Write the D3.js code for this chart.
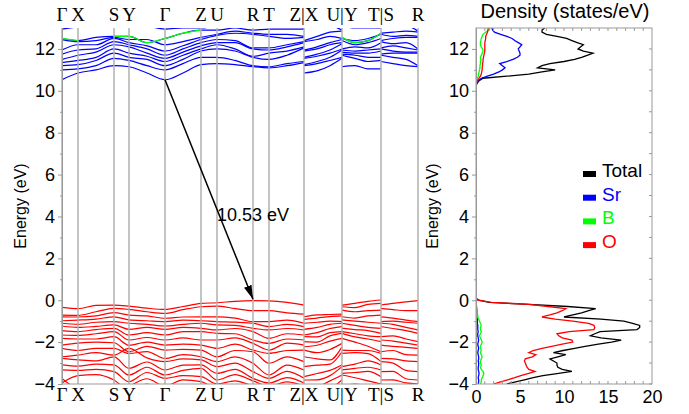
<!DOCTYPE html>
<html>
<head>
<meta charset="utf-8">
<script src="https://cdn.jsdelivr.net/npm/d3@7"></script>
<style>
  body { margin: 0; background: #fff; }
  text { font-family: Arial, "Liberation Sans", sans-serif; }
  .klabel { font-family: "Times New Roman", "Liberation Serif", serif; font-size: 19px; }
</style>
</head>
<body>
<svg id="chart"></svg>
<script>
// k-path: positions of the sampled k points along the path (arbitrary units)
var kPos = [0, 16, 34, 52, 67, 85, 103, 121, 139, 155, 173, 191, 207, 225, 242,
            242, 255, 268, 280,
            280, 293, 306, 319,
            319, 331, 344, 356];
// path pieces (index ranges into kPos), broken at Z|X, U|Y, T|S
var pieces = [[0, 15], [15, 19], [19, 23], [23, 27]];

var kTicks = [0, 16, 52, 67, 103, 139, 155, 191, 207, 242, 280, 319, 356];
var kLabels = ["Γ", "X", "S", "Y", "Γ", "Z", "U", "R", "T", "Z|X", "U|Y", "T|S", "R"];

// conduction band energies (eV), one row per k point
var cbEnergies = [
  [10.53, 11.0, 11.2, 11.35, 11.5, 11.75, 11.95, 12.45, 12.5, 12.95],
  [10.85, 11.05, 11.25, 11.45, 11.7, 11.95, 12.2, 12.35, 12.4, 13.05],
  [11.0, 11.2, 11.45, 11.6, 11.85, 12.0, 12.2, 12.4, 12.55, 13.1],
  [11.2, 11.55, 11.8, 12.0, 12.2, 12.35, 12.5, 12.55, 12.6, 13.2],
  [11.15, 11.45, 11.6, 11.8, 12.1, 12.2, 12.3, 12.45, 12.6, 13.2],
  [10.85, 11.2, 11.5, 11.65, 11.8, 12.0, 12.15, 12.45, 12.3, 13.1],
  [10.53, 11.0, 11.2, 11.4, 11.55, 11.7, 11.9, 12.2, 12.5, 12.95],
  [10.85, 11.3, 11.5, 11.7, 11.85, 12.0, 12.15, 12.35, 12.75, 13.0],
  [11.25, 11.6, 11.9, 12.0, 12.15, 12.3, 12.45, 12.55, 12.9, 13.0],
  [11.3, 11.6, 12.0, 12.2, 12.3, 12.45, 12.65, 12.7, 12.9, 13.1],
  [11.25, 11.45, 11.9, 12.0, 12.3, 12.4, 12.75, 12.85, 13.0, 13.2],
  [11.15, 11.2, 11.6, 11.65, 12.0, 12.05, 12.7, 12.75, 12.9, 13.3],
  [11.1, 11.15, 11.5, 11.8, 11.95, 12.05, 12.6, 12.7, 12.95, 13.3],
  [11.2, 11.3, 11.7, 11.9, 12.1, 12.2, 12.5, 12.7, 12.95, 13.2],
  [11.35, 11.4, 12.05, 12.1, 12.3, 12.35, 12.55, 12.6, 12.95, 13.0],
  [10.85, 11.2, 11.25, 11.55, 11.6, 11.9, 11.95, 12.35, 12.4, 13.1],
  [10.95, 11.3, 11.4, 11.65, 11.75, 12.0, 12.1, 12.45, 12.6, 13.1],
  [11.2, 11.45, 11.6, 11.8, 11.95, 12.2, 12.3, 12.6, 12.8, 13.1],
  [11.55, 11.6, 11.95, 12.0, 12.25, 12.3, 12.45, 12.5, 12.85, 12.9],
  [11.15, 11.7, 11.75, 11.85, 11.95, 12.0, 12.4, 12.5, 12.55, 13.1],
  [11.2, 11.55, 11.7, 11.8, 11.9, 12.1, 12.2, 12.4, 12.3, 13.0],
  [11.05, 11.4, 11.6, 11.8, 11.95, 12.05, 12.3, 12.5, 12.4, 13.0],
  [11.05, 11.45, 11.6, 11.9, 12.0, 12.3, 12.5, 12.7, 12.75, 13.0],
  [11.4, 11.7, 11.75, 12.0, 12.05, 12.35, 12.4, 12.7, 12.75, 13.1],
  [11.3, 11.6, 11.8, 11.9, 12.15, 12.25, 12.5, 12.6, 12.8, 13.1],
  [11.2, 11.5, 11.8, 11.85, 12.05, 12.3, 12.55, 12.65, 12.85, 13.1],
  [11.15, 11.2, 11.8, 11.85, 11.95, 12.0, 12.55, 12.6, 12.8, 12.85]
];

// parts of the bands with B character (drawn green), null where not
var bBand = [12.5, 12.4, null, 12.6, 12.6, 12.3, 12.5, 12.75, 12.9, null, null, null, null, null, null,
             null, null, null, null,
             12.55, 12.3, 12.4, 12.75,
             null, null, null, null];

// valence band energies (eV), one row per k point
var vbEnergies = [
  [-0.34, -0.71, -0.79, -0.98, -1.10, -1.23, -1.45, -1.66, -1.82, -2.14, -2.30, -2.70, -2.78, -3.09, -3.33, -3.73, -3.95, -4.3],
  [-0.40, -0.72, -0.80, -0.95, -1.15, -1.30, -1.50, -1.68, -1.85, -2.05, -2.40, -2.62, -2.85, -3.15, -3.35, -4.25, -3.60, -4.4],
  [-0.25, -0.55, -0.75, -0.90, -1.05, -1.25, -1.40, -1.60, -1.85, -2.00, -2.30, -2.50, -2.90, -3.05, -3.30, -4.4, -3.55, -4.2],
  [-0.23, -0.39, -0.59, -0.79, -1.02, -1.18, -1.34, -1.50, -1.74, -2.03, -2.30, -2.62, -2.70, -3.09, -3.41, -4.3, -3.81, -4.5],
  [-0.28, -0.44, -0.71, -0.94, -1.10, -1.39, -1.66, -1.90, -2.15, -2.46, -2.54, -2.30, -3.25, -3.57, -3.89, -4.1, -4.3, -4.6],
  [-0.38, -0.55, -0.75, -0.98, -1.15, -1.30, -1.55, -1.78, -2.00, -2.20, -2.45, -2.75, -2.95, -3.20, -3.45, -3.75, -4.0, -4.4],
  [-0.44, -0.63, -0.86, -1.02, -1.23, -1.39, -1.66, -1.90, -2.14, -2.38, -2.78, -2.93, -3.33, -3.57, -3.73, -4.1, -4.3, -4.6],
  [-0.30, -0.45, -0.80, -0.95, -1.15, -1.30, -1.50, -1.80, -2.10, -2.35, -2.60, -2.80, -3.10, -3.35, -3.60, -3.80, -4.1, -4.4],
  [-0.15, -0.31, -0.79, -0.98, -1.10, -1.34, -1.50, -1.90, -2.14, -2.38, -2.70, -2.85, -3.09, -3.25, -3.65, -3.89, -4.2, -4.5],
  [-0.12, -0.28, -0.79, -1.02, -1.18, -1.42, -1.58, -1.90, -2.30, -2.70, -2.93, -3.17, -3.49, -3.81, -4.0, -4.2, -4.4, -4.6],
  [-0.05, -0.40, -0.85, -1.05, -1.20, -1.35, -1.60, -1.80, -2.10, -2.40, -2.70, -3.00, -3.30, -3.55, -3.85, -4.1, -4.3, -4.5],
  [-0.02, -0.50, -1.02, -1.10, -1.34, -1.50, -1.90, -2.06, -2.38, -2.46, -3.01, -3.41, -3.73, -3.85, -4.1, -4.3, -4.5, -4.7],
  [-0.03, -0.50, -1.02, -1.26, -1.42, -1.82, -2.06, -2.38, -2.54, -3.01, -3.57, -3.73, -3.95, -4.1, -4.3, -4.5, -4.7, -4.9],
  [-0.10, -0.60, -0.95, -1.15, -1.35, -1.60, -1.85, -2.05, -2.40, -2.70, -3.10, -3.40, -3.70, -3.90, -4.1, -4.3, -4.5, -4.7],
  [-0.23, -0.66, -1.10, -1.26, -1.42, -1.66, -1.90, -2.14, -2.38, -2.93, -3.33, -3.73, -3.95, -4.1, -4.3, -4.5, -4.7, -4.9],
  [-0.79, -0.91, -1.10, -1.39, -1.66, -1.74, -1.98, -2.22, -2.38, -2.70, -3.17, -3.65, -3.81, -4.1, -4.3, -4.5, -4.7, -4.9],
  [-0.70, -0.85, -1.05, -1.30, -1.55, -1.75, -2.00, -2.15, -2.50, -2.80, -3.10, -3.50, -3.80, -4.1, -4.3, -4.5, -4.7, -4.9],
  [-0.68, -0.78, -1.00, -1.15, -1.35, -1.55, -1.70, -1.95, -2.35, -2.85, -3.05, -3.35, -3.60, -3.85, -4.2, -4.4, -4.6, -4.8],
  [-0.66, -0.75, -1.02, -1.10, -1.26, -1.50, -1.58, -1.82, -2.06, -2.22, -2.46, -3.09, -3.17, -3.57, -3.81, -4.1, -4.3, -4.5],
  [-0.23, -0.31, -0.47, -0.79, -0.94, -1.10, -1.34, -1.50, -1.58, -1.82, -2.38, -2.54, -3.17, -3.33, -3.49, -3.57, -4.1, -4.3],
  [-0.15, -0.35, -0.55, -0.85, -1.00, -1.20, -1.40, -1.60, -1.75, -2.00, -2.40, -2.50, -3.05, -3.25, -3.45, -3.70, -4.0, -4.3],
  [-0.05, -0.20, -0.50, -0.75, -1.05, -1.30, -1.45, -1.70, -1.85, -2.20, -2.40, -2.55, -2.90, -3.20, -3.40, -3.85, -4.1, -4.3],
  [0.01, -0.15, -0.47, -0.71, -1.10, -1.34, -1.58, -1.74, -1.98, -2.46, -2.54, -2.93, -3.09, -3.33, -3.65, -4.0, -4.2, -4.4],
  [-0.23, -0.39, -0.79, -1.02, -1.10, -1.26, -1.74, -1.90, -2.14, -2.46, -2.78, -2.93, -3.41, -3.81, -4.1, -4.3, -4.5, -4.7],
  [-0.15, -0.45, -0.85, -1.00, -1.15, -1.35, -1.70, -1.95, -2.20, -2.40, -2.80, -3.00, -3.40, -3.80, -4.1, -4.3, -4.5, -4.7],
  [-0.08, -0.50, -0.95, -1.05, -1.30, -1.45, -1.85, -2.05, -2.25, -2.60, -2.90, -3.35, -3.75, -3.95, -4.1, -4.3, -4.5, -4.7],
  [-0.02, -0.50, -1.02, -1.10, -1.42, -1.58, -1.98, -2.14, -2.30, -2.62, -2.93, -3.41, -3.81, -4.0, -4.2, -4.4, -4.6, -4.8]
];

// gap transition (Γ -> R)
var gapFrom = {k: 103, e: 10.53};
var gapTo = {k: 191, e: 0.05};
var gapLabel = "10.53 eV";

// density of states, valence grid -4.0 .. 0.3 eV and conduction grid 10.2 .. 13.0 eV
var dosEnergyVB = d3.range(-40, 4).map(function(i){ return i / 10; });
var dosEnergyCB = d3.range(102, 131).map(function(i){ return i / 10; });

var totalVB = [3.5, 4.5, 5.5, 6.5, 7.6, 9.2, 10.9, 9.8, 9.3, 9.2,
               9.2, 8.8, 8.4, 9.3, 10.2, 8.8, 9.9, 11.2, 12.4, 13.9,
               15.4, 16.5, 14.2, 13.0, 13.5, 14.1, 18.3, 18.6, 18.6, 17.8,
               16.8, 14.2, 10.0, 11.0, 12.0, 12.8, 13.6, 10.4, 6.0, 1.5,
               0.3, 0, 0, 0];
var srVB = [0.25, 0.3, 0.3, 0.25, 0.3, 0.35, 0.3, 0.25, 0.25, 0.3,
            0.3, 0.25, 0.3, 0.3, 0.25, 0.2, 0.25, 0.3, 0.25, 0.2,
            0.25, 0.3, 0.25, 0.2, 0.2, 0.25, 0.2, 0.2, 0.2, 0.15,
            0.15, 0.15, 0.1, 0.1, 0.1, 0.1, 0.08, 0.06, 0.04, 0.02,
            0, 0, 0, 0];
var bVB = [0.5, 0.6, 0.6, 0.7, 0.8, 0.9, 0.8, 0.6, 0.5, 0.6,
           0.5, 0.5, 0.6, 0.7, 0.6, 0.5, 0.6, 0.5, 0.5, 0.6,
           0.7, 0.6, 0.5, 0.4, 0.5, 0.6, 0.5, 0.5, 0.6, 0.5,
           0.4, 0.3, 0.2, 0.2, 0.1, 0.05, 0.05, 0.03, 0.02, 0.01,
           0, 0, 0, 0];
var oVB = [2.0, 2.8, 3.6, 4.4, 5.1, 5.9, 6.7, 6.0, 5.8, 5.7,
           5.6, 5.5, 5.6, 6.4, 6.8, 6.0, 6.5, 7.5, 8.6, 9.8,
           11.0, 10.9, 9.8, 9.4, 9.2, 10.6, 13.4, 13.5, 13.4, 12.8,
           11.0, 9.0, 7.5, 8.4, 9.2, 9.8, 10.2, 8.2, 6.0, 1.8,
           0.2, 0, 0, 0];

var totalCB = [0, 0.05, 0.2, 0.4, 0.8, 3.5, 6.0, 7.5, 9.0, 7.0,
               7.5, 8.4, 10.0, 11.2, 12.0, 12.7, 13.3, 12.2, 11.6, 11.9,
               12.2, 11.5, 10.9, 10.3, 9.2, 8.0, 7.5, 7.5, 7.8];
var srCB = [0, 0, 0.1, 0.3, 0.6, 1.3, 2.0, 2.6, 3.0, 3.3,
            3.0, 2.7, 3.5, 4.2, 4.7, 5.0, 5.0, 4.9, 4.8, 5.0,
            5.2, 4.8, 4.4, 4.1, 3.5, 2.8, 2.1, 1.9, 1.8];
var bCB = [0, 0, 0.05, 0.1, 0.15, 0.25, 0.3, 0.35, 0.4, 0.45,
           0.45, 0.5, 0.5, 0.55, 0.5, 0.6, 0.7, 0.8, 0.75, 0.6,
           0.5, 0.5, 0.55, 0.6, 0.7, 0.8, 1.1, 1.5, 1.6];
var oCB = [0, 0.02, 0.1, 0.2, 0.35, 0.5, 0.6, 0.65, 0.7, 0.7,
           0.75, 0.75, 0.8, 0.8, 0.85, 0.9, 0.95, 1.0, 1.0, 1.0,
           1.0, 1.0, 1.05, 1.1, 1.1, 1.2, 1.3, 1.35, 1.4];

var legendNames = ["Total", "Sr", "B", "O"];
var legendColors = ["#000000", "#0000ff", "#00ff00", "#ff0000"];

var energyTicks = [-4, -2, 0, 2, 4, 6, 8, 10, 12];
var energyMinor = [-3, -1, 1, 3, 5, 7, 9, 11];
var dosTicks = [0, 5, 10, 15, 20];

// ---------------------------------------------------------------
var width = 689;
var height = 414;
var plotTop = 28, plotBottom = 384;
var bandLeft = 62, bandRight = 418;
var dosLeft = 476, dosRight = 652;
var gray = "#999";

var svg = d3.select("#chart")
            .attr("width", width)
            .attr("height", height);

var x = d3.scaleLinear().domain([0, 356]).range([bandLeft, bandRight]);
var y = d3.scaleLinear().domain([-4, 13]).range([plotBottom, plotTop]);
var xd = d3.scaleLinear().domain([0, 20]).range([dosLeft, dosRight]);

var defs = svg.append("defs");
defs.append("clipPath").attr("id", "clipBand")
    .append("rect")
    .attr("x", bandLeft).attr("y", plotTop)
    .attr("width", bandRight - bandLeft).attr("height", plotBottom - plotTop);
defs.append("clipPath").attr("id", "clipDos")
    .append("rect")
    .attr("x", dosLeft).attr("y", plotTop)
    .attr("width", dosRight - dosLeft).attr("height", plotBottom - plotTop);
defs.append("marker")
    .attr("id", "head")
    .attr("viewBox", "0 0 14 8")
    .attr("refX", 14).attr("refY", 4)
    .attr("markerWidth", 14).attr("markerHeight", 8)
    .attr("markerUnits", "userSpaceOnUse")
    .attr("orient", "auto")
    .append("path")
    .attr("d", "M0,0L14,4L0,8Z")
    .attr("fill", "#000");

// ---------- band structure ----------
var bandG = svg.append("g").attr("clip-path", "url(#clipBand)");

var line = d3.line()
             .defined(function(d){ return d[1] != null; })
             .x(function(d){ return x(d[0]); })
             .y(function(d){ return y(d[1]); })
             .curve(d3.curveMonotoneX);

function drawBands(table, color){
  var nBands = table[0].length;
  pieces.forEach(function(p){
    for (var b = 0; b < nBands; b++) {
      var pts = [];
      for (var i = p[0]; i < p[1]; i++) pts.push([kPos[i], table[i][b]]);
      bandG.append("path")
           .attr("d", line(pts))
           .attr("fill", "none")
           .attr("stroke", color)
           .attr("stroke-width", 1.2);
    }
  });
}

drawBands(vbEnergies, "#ff0000");
drawBands(cbEnergies, "#0000ff");

pieces.forEach(function(p){
  var pts = [];
  for (var i = p[0]; i < p[1]; i++) pts.push([kPos[i], bBand[i]]);
  bandG.append("path")
       .attr("d", line(pts))
       .attr("fill", "none")
       .attr("stroke", "#00ff00")
       .attr("stroke-width", 1.3);
});

// high symmetry lines
svg.append("g").selectAll("line")
   .data(kTicks)
   .enter().append("line")
   .attr("x1", function(d){ return x(d); })
   .attr("x2", function(d){ return x(d); })
   .attr("y1", plotTop).attr("y2", plotBottom)
   .attr("stroke", "#b0b0b0")
   .attr("stroke-width", 1.5);

// bottom line
svg.append("line")
   .attr("x1", bandLeft).attr("x2", bandRight)
   .attr("y1", plotBottom).attr("y2", plotBottom)
   .attr("stroke", gray);

// k labels
[21, 401].forEach(function(yy){
  svg.append("g").selectAll("text")
     .data(kTicks)
     .enter().append("text")
     .attr("class", "klabel")
     .attr("x", function(d){ return x(d); })
     .attr("y", yy)
     .attr("text-anchor", "middle")
     .text(function(d, i){ return kLabels[i]; });
});

// energy axis
function energyAxis(xPos, pad){
  var g = svg.append("g").attr("transform", "translate(" + xPos + ",0)");
  g.call(d3.axisLeft(y).tickValues(energyTicks).tickSize(4).tickSizeOuter(0).tickPadding(pad));
  g.select(".domain").attr("stroke", gray);
  g.selectAll(".tick line").attr("stroke", gray);
  g.selectAll(".tick text").attr("font-size", 18).attr("fill", "#000")
   .attr("font-family", "Arial, 'Liberation Sans', sans-serif");
  var m = svg.append("g").attr("transform", "translate(" + xPos + ",0)");
  m.call(d3.axisLeft(y).tickValues(energyMinor).tickSize(2).tickSizeOuter(0).tickFormat(""));
  m.select(".domain").remove();
  m.selectAll(".tick line").attr("stroke", gray);
}
energyAxis(bandLeft, 3);

svg.append("text")
   .attr("transform", "translate(26," + ((plotTop + plotBottom) / 2) + ") rotate(-90)")
   .attr("text-anchor", "middle")
   .attr("font-size", 16)
   .text("Energy (eV)");

// gap arrow
svg.append("line")
   .attr("x1", x(gapFrom.k)).attr("y1", y(gapFrom.e))
   .attr("x2", x(gapTo.k)).attr("y2", y(gapTo.e))
   .attr("stroke", "#000")
   .attr("stroke-width", 1.5)
   .attr("marker-end", "url(#head)");

svg.append("text")
   .attr("x", 217).attr("y", 221)
   .attr("font-size", 18)
   .text(gapLabel);

// ---------- density of states ----------
var dosG = svg.append("g").attr("clip-path", "url(#clipDos)");
var energyAll = dosEnergyVB.concat(dosEnergyCB);
var dosSeries = [totalVB.concat(totalCB), srVB.concat(srCB), bVB.concat(bCB), oVB.concat(oCB)];

var dosLine = d3.line()
                .x(function(d){ return xd(d[1]); })
                .y(function(d){ return y(d[0]); });

dosSeries.forEach(function(vals, s){
  var pts = energyAll.map(function(e, i){ return [e, vals[i]]; });
  dosG.append("path")
      .attr("d", dosLine(pts))
      .attr("fill", "none")
      .attr("stroke", legendColors[s])
      .attr("stroke-width", 1.3);
});

// frame
svg.append("rect")
   .attr("x", dosLeft).attr("y", plotTop)
   .attr("width", dosRight - dosLeft).attr("height", plotBottom - plotTop)
   .attr("fill", "none")
   .attr("stroke", gray);

energyAxis(dosLeft, 3);

// inner ticks on right edge
svg.append("g").selectAll("line")
   .data(energyTicks.concat(energyMinor))
   .enter().append("line")
   .attr("x1", dosRight).attr("x2", dosRight - 3)
   .attr("y1", function(d){ return y(d); })
   .attr("y2", function(d){ return y(d); })
   .attr("stroke", gray);

// inner ticks on top and bottom edges
var dosMinor = d3.range(1, 20);
[plotTop, plotBottom].forEach(function(yy, j){
  svg.append("g").selectAll("line")
     .data(dosMinor)
     .enter().append("line")
     .attr("x1", function(d){ return xd(d); })
     .attr("x2", function(d){ return xd(d); })
     .attr("y1", yy)
     .attr("y2", j === 0 ? yy + 3 : yy - 3)
     .attr("stroke", gray);
});

var xAxisG = svg.append("g").attr("transform", "translate(0," + plotBottom + ")");
xAxisG.call(d3.axisBottom(xd).tickValues(dosTicks).tickSize(0).tickPadding(6));
xAxisG.select(".domain").remove();
xAxisG.selectAll(".tick text").attr("font-size", 18).attr("fill", "#000")
      .attr("font-family", "Arial, 'Liberation Sans', sans-serif");

svg.append("text")
   .attr("transform", "translate(438," + ((plotTop + plotBottom) / 2) + ") rotate(-90)")
   .attr("text-anchor", "middle")
   .attr("font-size", 16)
   .text("Energy (eV)");

svg.append("text")
   .attr("x", (dosLeft + dosRight) / 2 + 1)
   .attr("y", 18)
   .attr("text-anchor", "middle")
   .attr("font-size", 20)
   .text("Density (states/eV)");

// legend
var legend = svg.append("g").selectAll("g")
                .data(legendNames)
                .enter().append("g")
                .attr("transform", function(d, i){ return "translate(583," + (177 + i * 23.7) + ")"; });
legend.append("rect")
      .attr("x", 0).attr("y", -6)
      .attr("width", 13).attr("height", 6)
      .attr("fill", function(d, i){ return legendColors[i]; });
legend.append("text")
      .attr("x", 19).attr("y", 0)
      .attr("font-size", 19)
      .attr("fill", function(d, i){ return legendColors[i]; })
      .text(function(d){ return d; });
</script>
</body>
</html>
